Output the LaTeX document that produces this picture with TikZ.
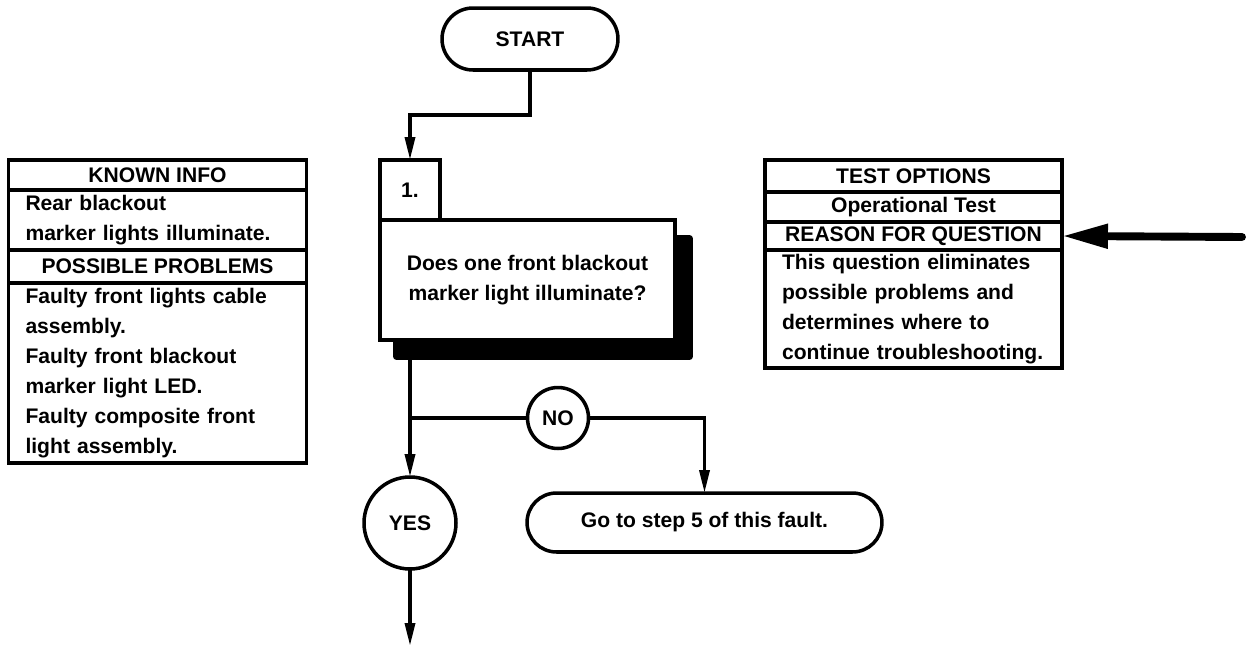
\documentclass[tikz,border=0pt]{standalone}
\usepackage{fontspec}
\setmainfont{Liberation Sans}
\usetikzlibrary{arrows.meta, positioning, calc}

\begin{document}
\begin{tikzpicture}[
  x=0.02cm, y=-0.02cm,
  font=\fontsize{12}{17}\selectfont\bfseries,
  every node/.style={outer sep=0pt},
  fcline/.style={draw=black, line width=2pt},
  fcar/.style={fcline, -{Triangle[length=0.46cm,width=0.2cm]}},
  fcbigar/.style={draw=black, line width=4.5pt, line cap=round,
                  -{Triangle[length=0.92cm,width=0.46cm]}},
  fcterm/.style={fcline, fill=white, align=center, inner sep=0pt},
  fcbox/.style={fcline, fill=white, align=center, inner sep=0pt},
  fchead/.style={fcbox, minimum width=5.96cm},
  fctext/.style={fcline, fill=white, align=left, inner ysep=0pt,
                 inner xsep=0.34cm, text width=5.28cm},
  fccirc/.style={circle, fcline, fill=white, inner sep=0pt}
]
\useasboundingbox (0,0) rectangle (1249,646);

%--------------------------------------------------------------
% Colonna centrale: domanda
%--------------------------------------------------------------
\node[fcterm, minimum width=3.52cm, minimum height=1.24cm,
      rounded corners=0.62cm] (start) at (530,39) {START};

\node[fcbox, minimum width=1.2cm, minimum height=1.2cm] (stepno) at (410,190) {1.};

\node[fill=black, minimum width=6.0cm, minimum height=2.5cm,
      rounded corners=2pt, inner sep=0pt] (qshadow) at (543,297.5) {};
\node[fcbox, minimum width=5.9cm, minimum height=2.4cm] (question) at (527.5,280)
  {Does one front blackout\\ marker light illuminate?};

\node[fccirc, minimum size=1.84cm] (yes) at (410,523) {YES};
\node[fccirc, minimum size=1.22cm] (no) at (558,418) {NO};

\node[fcterm, minimum width=7.1cm, minimum height=1.18cm,
      rounded corners=0.59cm] (goto) at (704.5,522.5) {Go to step 5 of this fault.};

%--------------------------------------------------------------
% Colonna di sinistra: informazioni note
%--------------------------------------------------------------
\node[fchead, minimum height=0.6cm] (kihead) at (157.5,175) {KNOWN INFO};
\node[fctext, minimum height=1.2cm, below=0pt of kihead] (kitext)
  {Rear blackout\\ marker lights illuminate.};
\node[fchead, minimum height=0.66cm, below=0pt of kitext] (pphead) {POSSIBLE PROBLEMS};
\node[fctext, minimum height=3.6cm, below=0pt of pphead] (pptext)
  {Faulty front lights cable\\ assembly.\\ Faulty front blackout\\ marker light LED.\\
   Faulty composite front\\ light assembly.};

%--------------------------------------------------------------
% Colonna di destra: opzioni di prova
%--------------------------------------------------------------
\node[fchead, minimum width=5.94cm, minimum height=0.64cm] (tohead) at (913.5,176) {TEST OPTIONS};
\node[fchead, minimum width=5.94cm, minimum height=0.6cm, below=0pt of tohead] (totext) {Operational Test};
\node[fchead, minimum width=5.94cm, minimum height=0.56cm, below=0pt of totext] (rqhead) {REASON FOR QUESTION};
\node[fctext, text width=5.26cm, minimum height=2.36cm, below=0pt of rqhead] (rqtext)
  {This question eliminates\\ possible problems and\\ determines where to\\ continue troubleshooting.};

%--------------------------------------------------------------
% Collegamenti
%--------------------------------------------------------------
\coordinate (jstart) at ($(start.south)!0.5!(stepno.north)$);
\coordinate (jno) at (yes.north |- no.west);
\coordinate (nextstep) at (410,646);
\coordinate (ptr) at (1242,237);

\draw[fcar] (start.south) |- (jstart) -| (stepno.north);
\draw[fcar] (yes.north |- qshadow.south) -- (yes.north);
\draw[fcline] (jno) -- (no.west);
\draw[fcar] (no.east) -| (goto.north);
\draw[fcar] (yes.south) -- (nextstep);
\draw[fcbigar] (ptr) -- (rqhead.east);

\end{tikzpicture}
\end{document}
